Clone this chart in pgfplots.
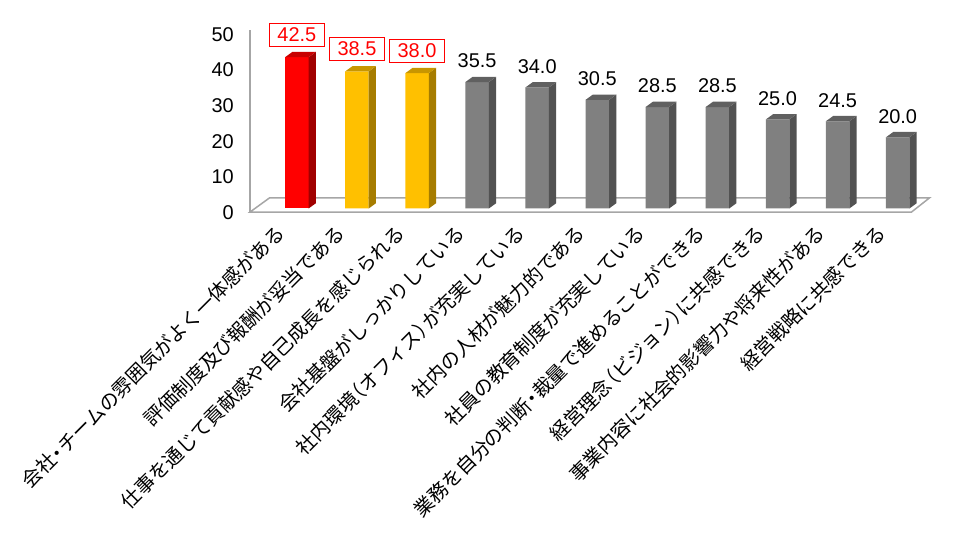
\documentclass[border=0pt]{standalone}
\usepackage{fontspec}
\setmainfont{Liberation Sans}
\newfontfamily\cjk{Noto Sans CJK JP}
\usepackage{pgfplots}
\usepackage{pgfplotstable}
\pgfplotsset{compat=1.18}
\definecolor{fRed}{HTML}{FF0000}
\definecolor{sRed}{HTML}{A00000}
\definecolor{tRed}{HTML}{C80000}
\definecolor{fGold}{HTML}{FFC000}
\definecolor{sGold}{HTML}{A67C00}
\definecolor{tGold}{HTML}{C89600}
\definecolor{fGray}{HTML}{808080}
\definecolor{sGray}{HTML}{525252}
\definecolor{tGray}{HTML}{606060}
\definecolor{axGray}{HTML}{A6A6A6}
\newcommand\lp{\kern-.45em（}
\newcommand\rp{）\kern-.45em}
\newcommand\nd{\kern-.22em・\kern-.22em}

\pgfplotstableread{
x y
0 42.5
}\redtab
\pgfplotstableread{
x y
1 38.5
2 38.0
}\goldtab
\pgfplotstableread{
x y
3 35.5
4 34.0
5 30.5
6 28.5
7 28.5
8 25.0
9 24.5
10 20.0
}\graytab

% side face of a 3D bar, mark placed at the bar's top (front centre)
\pgfdeclareplotmark{side3d}{%
  \pgfmathsetmacro\hA{-\barv*3.5608}%
  \pgfmathsetmacro\hB{5.3-\barv*3.5608}%
  \pgfpathmoveto{\pgfqpoint{11.75bp}{0bp}}%
  \pgfpathlineto{\pgfqpoint{19.05bp}{5.3bp}}%
  \pgfpathlineto{\pgfqpoint{19.05bp}{\hB bp}}%
  \pgfpathlineto{\pgfqpoint{11.75bp}{\hA bp}}%
  \pgfpathclose
  \pgfusepath{fill}}
\pgfdeclareplotmark{top3d}{%
  \pgfpathmoveto{\pgfqpoint{-11.75bp}{0bp}}%
  \pgfpathlineto{\pgfqpoint{11.75bp}{0bp}}%
  \pgfpathlineto{\pgfqpoint{19.05bp}{5.3bp}}%
  \pgfpathlineto{\pgfqpoint{-4.45bp}{5.3bp}}%
  \pgfpathclose
  \pgfusepath{fill}}

\pgfplotsset{
  valnodes/.style={
    nodes near coords={\pgfmathprintnumber[fixed,fixed zerofill,precision=1]{\pgfplotspointmeta}},
    every node near coord/.append style={font=\fontsize{20}{20}\selectfont},
  },
}

\begin{document}
\begin{tikzpicture}
\begin{axis}[
  at={(250bp,324.94bp)}, anchor=south west,
  scale only axis, width=661.5bp, height=181.6bp,
  xmin=-0.78, xmax=10.23, ymin=-1, ymax=50,
  clip=false,
  axis x line*=bottom,
  axis y line*=left,
  x axis line style={draw=none},
  y axis line style={draw=axGray, line width=1.5bp},
  ytick={0,10,20,30,40,50},
  major tick length=0pt,
  yticklabel style={font=\fontsize{20}{20}\selectfont, anchor=east, inner sep=0pt, xshift=-16bp, yshift=-4bp},
  /pgf/number format/assume math mode=true,
  xtick={0,1,2,3,4,5,6,7,8,9,10},
  xticklabels={会社\nd チームの雰囲気がよく一体感がある,評価制度及び報酬が妥当である,仕事を通じて貢献感や自己成長を感じられる,会社基盤がしっかりしている,社内環境\lp オフィス\rp が充実している,社内の人材が魅力的である,社員の教育制度が充実している,業務を自分の判断\nd 裁量で進めることができる,経営理念\lp ビジョン\rp に共感できる,事業内容に社会的影響力や将来性がある,経営戦略に共感できる},
  xticklabel style={font=\cjk\fontsize{19.6}{19.6}\selectfont, inner sep=0pt, xshift=-16bp, yshift=-17bp, rotate=45, anchor=east},
]
% floor
\addplot[fill=white, draw=axGray, line width=1.5bp] coordinates {(-0.78,-1) (10.23,-1) (10.527,2.95) (-0.4577,2.95)} -- cycle;
% front faces
\addplot[ybar, bar width=23.5bp, bar shift=0pt, fill=fRed, draw=none, valnodes,
  nodes near coords style={draw=fRed, fill=white, text=fRed, anchor=center, yshift=22.5bp, minimum width=55bp, minimum height=23bp, inner sep=0pt}] table {\redtab};
\addplot[ybar, bar width=23.5bp, bar shift=0pt, fill=fGold, draw=none, valnodes,
  nodes near coords style={draw=fRed, fill=white, text=fRed, anchor=center, yshift=22.5bp, minimum width=55bp, minimum height=23bp, inner sep=0pt}] table {\goldtab};
\addplot[ybar, bar width=23.5bp, bar shift=0pt, fill=fGray, draw=none, valnodes,
  nodes near coords style={text=black, anchor=center, yshift=21bp, inner sep=0pt}] table {\graytab};
% sides and tops
\addplot[only marks, mark=side3d, mark options={fill=sRed, draw=none}, visualization depends on={rawy \as \barv}] table {\redtab};
\addplot[only marks, mark=top3d, mark options={fill=tRed, draw=none}] table {\redtab};
\addplot[only marks, mark=side3d, mark options={fill=sGold, draw=none}, visualization depends on={rawy \as \barv}] table {\goldtab};
\addplot[only marks, mark=top3d, mark options={fill=tGold, draw=none}] table {\goldtab};
\addplot[only marks, mark=side3d, mark options={fill=sGray, draw=none}, visualization depends on={rawy \as \barv}] table {\graytab};
\addplot[only marks, mark=top3d, mark options={fill=tGray, draw=none}] table {\graytab};
\end{axis}
\pgfresetboundingbox
\path[use as bounding box] (0bp,0bp) rectangle (969bp,537bp);
\end{tikzpicture}
\end{document}
